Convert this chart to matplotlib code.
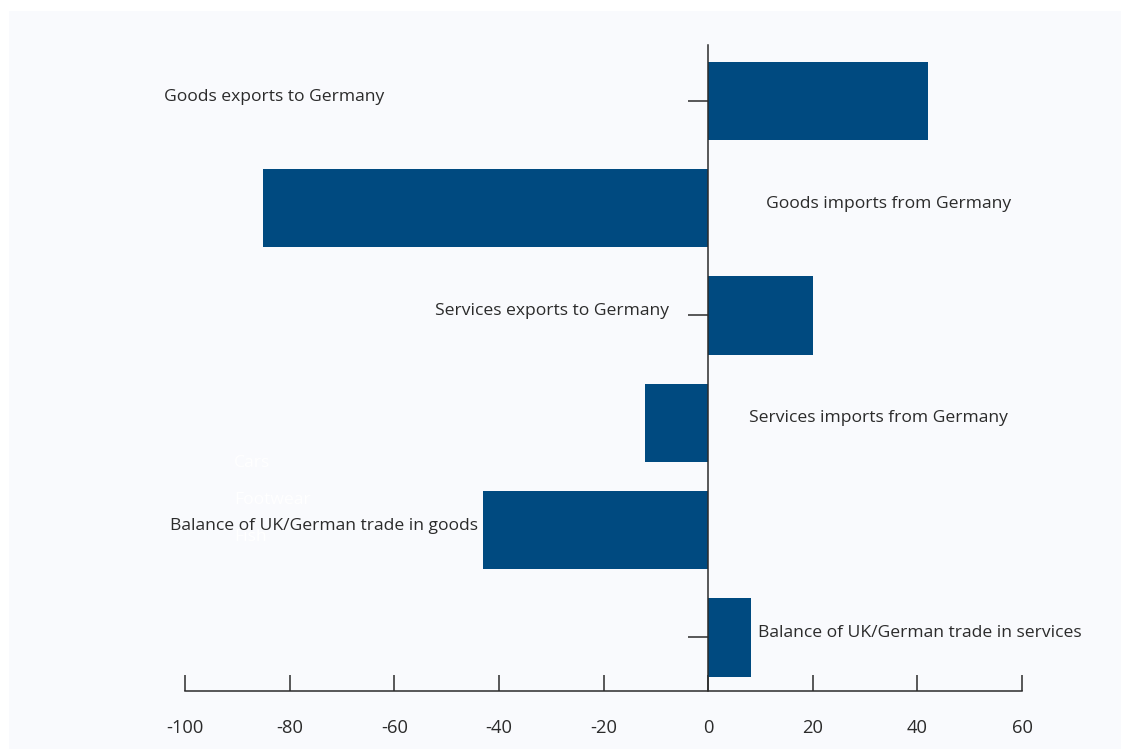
import matplotlib
matplotlib.use('Agg')
import matplotlib.pyplot as plt
from matplotlib.patches import Rectangle

plt.rcParams['font.family'] = ['Open Sans', 'DejaVu Sans']

# data (£bn)
categories = ['Goods exports to Germany', 'Goods imports from Germany',
              'Services exports to Germany', 'Services imports from Germany',
              'Balance of UK/German trade in goods', 'Balance of UK/German trade in services']
values = [42, -85, 20, -12, -43, 8.2]
x_ticks = [-100, -80, -60, -40, -20, 0, 20, 40, 60]
hidden_labels = ['Cars', 'Footwear', 'Fish']   # white, barely visible in the original

# label placement (data x, alignment)
label_x = [-62, 11, -7.5, 7.8, -44, 9.6]
label_ha = ['right', 'left', 'right', 'left', 'right', 'left']

BAR = '#004a80'
INK = '#2b2b2b'
PANEL = '#f9fafd'

fig = plt.figure(figsize=(11.21, 7.49), dpi=100)
fig.patch.set_facecolor('white')
fig.patches.append(Rectangle((9 / 1121, 0), 1 - 9 / 1121, 1 - 11 / 749,
                             transform=fig.transFigure, facecolor=PANEL,
                             edgecolor='none', zorder=-5))

ax = fig.add_axes([185 / 1121, 58 / 749, (1022 - 185) / 1121, (690 - 44) / 749])
ax.set_facecolor('none')

y = list(range(len(categories)))
ax.barh(y, values, height=0.73, color=BAR, zorder=3)

ax.set_xlim(-100, 60)
ax.set_ylim(len(categories) - 0.5, -0.52)

ax.spines['top'].set_visible(False)
ax.spines['right'].set_visible(False)
ax.spines['left'].set_position(('data', 0))
for s in ('left', 'bottom'):
    ax.spines[s].set_color(INK)
    ax.spines[s].set_linewidth(1.1)
    ax.spines[s].set_zorder(4)

ax.set_yticks(y)
ax.set_yticklabels([])
ax.tick_params(axis='y', direction='out', length=14.4, width=1.1, color=INK)
ax.set_xticks(x_ticks)
ax.set_xticklabels([str(t) for t in x_ticks])
ax.tick_params(axis='x', direction='in', length=11.5, width=1.1, color=INK,
               pad=20, labelsize=13.2, labelcolor=INK)

for yi, lab, lx, ha in zip(y, categories, label_x, label_ha):
    ax.text(lx, yi - 0.04, lab, ha=ha, va='center', fontsize=12.6, color=INK, zorder=5)

for i, lab in enumerate(hidden_labels):
    fig.text(234 / 1121, 1 - (463 + 37 * i) / 749, lab, ha='left', va='center',
             fontsize=12.6, color='white', zorder=-1)

fig.savefig('out.png', dpi=100, facecolor='white')
